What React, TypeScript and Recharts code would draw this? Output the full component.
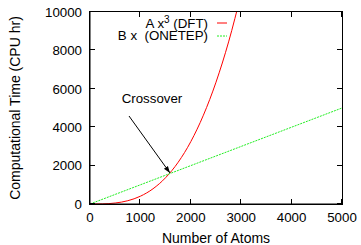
import React from "react";
import {
  LineChart,
  Line,
  XAxis,
  YAxis,
  Label,
  ReferenceLine,
  ReferenceDot,
} from "recharts";

// values
const DFT_ATOMS = [0, 250, 500, 750, 1000, 1250, 1500, 1750, 2000, 2250, 2500, 2750, 3000];
const DFT_CPU = [0, 6, 51, 171, 406, 793, 1370, 2176, 3248, 4625, 6344, 8443, 10962];
const ONETEP_ATOMS = [0, 5000];
const ONETEP_CPU = [0, 5000];
const X_TICKS = [0, 1000, 2000, 3000, 4000, 5000];
const Y_TICKS = [0, 2000, 4000, 6000, 8000, 10000];

const X_MAX = 5000;
const Y_MAX = 10000;

const dftData = DFT_ATOMS.map((x, i) => ({ x, y: DFT_CPU[i] }));
const onetepData = ONETEP_ATOMS.map((x, i) => ({ x, y: ONETEP_CPU[i] }));

const W = 361;
const H = 245;
const MARGIN = { top: 12, right: 19, bottom: 11, left: 30 };
const Y_AXIS_W = 60;
const X_AXIS_H = 30;
// plot box, follows from the margins and axis sizes above
const PLOT = {
  left: MARGIN.left + Y_AXIS_W,
  top: MARGIN.top,
  right: W - MARGIN.right,
  bottom: H - MARGIN.bottom - X_AXIS_H,
};
const TICK_LEN = 5;

const FONT = "'Liberation Sans', Arial, Helvetica, sans-serif";
const tickStyle = { fill: "#000", fontSize: 13.3, fontFamily: FONT };

// gnuplot-style key, top right inside the plot
const GnuLegend = () => (
  <div
    style={{
      position: "absolute",
      left: 90,
      top: 16,
      width: 146,
      fontFamily: FONT,
      fontSize: 13.3,
      color: "#000",
      lineHeight: "12px",
    }}
  >
    <div style={{ display: "flex", justifyContent: "flex-end", alignItems: "center" }}>
      <span>
        A x<sup style={{ fontSize: 10, verticalAlign: "5px", lineHeight: "8px" }}>3</sup> (DFT)
      </span>
      <svg width={20} height={12} style={{ marginLeft: 8 }}>
        <line x1={1} y1={6} x2={11} y2={6} stroke="#ff0000" strokeWidth={1} />
      </svg>
    </div>
    <div style={{ display: "flex", justifyContent: "flex-end", alignItems: "center" }}>
      <span style={{ whiteSpace: "pre" }}>B x  (ONETEP)</span>
      <svg width={20} height={12} style={{ marginLeft: 8 }}>
        <line x1={1} y1={6} x2={11} y2={6} stroke="#22ee22" strokeWidth={1} strokeDasharray="2 1" />
      </svg>
    </div>
  </div>
);

// gnuplot border with inward ticks on all four sides, as plain html boxes
const Frame = () => {
  const px = (t: number) => Math.round(PLOT.left + (t / X_MAX) * (PLOT.right - PLOT.left));
  const py = (t: number) => Math.round(PLOT.bottom - (t / Y_MAX) * (PLOT.bottom - PLOT.top));
  const tick = (left: number, top: number, w: number, h: number, key: string) => (
    <div key={key} style={{ position: "absolute", left, top, width: w, height: h, background: "#000" }} />
  );
  return (
    <div style={{ position: "absolute", left: 0, top: 0, width: W, height: H, pointerEvents: "none" }}>
      <div
        style={{
          position: "absolute",
          left: PLOT.left - 1,
          top: PLOT.top - 1,
          width: PLOT.right - PLOT.left + 2,
          height: PLOT.bottom - PLOT.top + 2,
          boxSizing: "border-box",
          border: "1.5px solid #000",
        }}
      />
      {X_TICKS.map((t) => tick(px(t) - 1, PLOT.bottom - TICK_LEN, 1, TICK_LEN, "xb" + t))}
      {X_TICKS.map((t) => tick(px(t) - 1, PLOT.top, 1, TICK_LEN, "xt" + t))}
      {Y_TICKS.map((t) => tick(PLOT.left, py(t) - 1, TICK_LEN, 1, "yl" + t))}
      {Y_TICKS.map((t) => tick(PLOT.right - TICK_LEN, py(t) - 1, TICK_LEN, 1, "yr" + t))}
    </div>
  );
};

const arrowLine = (p: any) => (
  <line x1={p.x1} y1={p.y1} x2={p.x2} y2={p.y2} stroke="#000" strokeWidth={1} markerEnd="url(#arrowHead)" />
);

export default function App() {
  return (
    <div style={{ position: "absolute", left: 0, top: 0, width: W, height: H, background: "#fff" }}>
      <LineChart width={W} height={H} margin={MARGIN}>
        <defs>
          <marker id="arrowHead" viewBox="0 0 10 10" refX="10" refY="5" markerWidth="7" markerHeight="7" orient="auto">
            <path d="M0,1.5 L10,5 L0,8.5 z" fill="#000" />
          </marker>
        </defs>
        <XAxis
          type="number"
          dataKey="x"
          domain={[0, X_MAX]}
          ticks={X_TICKS}
          allowDataOverflow
          height={X_AXIS_H}
          stroke="#000"
          tickLine={false}
          tickSize={0}
          tickMargin={9}
          tick={tickStyle}
        >
          <Label value="Number of Atoms" position="bottom" offset={-1} style={{ fill: "#000", fontSize: 14, fontFamily: FONT }} />
        </XAxis>
        <YAxis
          type="number"
          domain={[0, Y_MAX]}
          ticks={Y_TICKS}
          allowDataOverflow
          width={Y_AXIS_W}
          stroke="#000"
          tickLine={false}
          tickSize={0}
          tickMargin={8}
          tick={tickStyle}
        >
          <Label
            value="Computational Time (CPU hr)"
            angle={-90}
            position="left"
            offset={15}
            style={{ fill: "#000", fontSize: 14, fontFamily: FONT, textAnchor: "middle" }}
          />
        </YAxis>
        <Line
          data={dftData}
          dataKey="y"
          type="monotone"
          stroke="#ff0000"
          strokeWidth={1}
          dot={false}
          isAnimationActive={false}
        />
        <Line
          data={onetepData}
          dataKey="y"
          type="linear"
          stroke="#22ee22"
          strokeWidth={1}
          strokeDasharray="2 1"
          dot={false}
          isAnimationActive={false}
        />
        <ReferenceLine
          segment={[
            { x: 774, y: 4583 },
            { x: 1587, y: 1615 },
          ]}
          shape={arrowLine}
        />
        <ReferenceDot
          x={1230}
          y={5520}
          r={0}
          stroke="none"
          label={{ value: "Crossover", position: "center", fill: "#000", fontSize: 13.3, fontFamily: FONT }}
        />
      </LineChart>
      <Frame />
      <GnuLegend />
    </div>
  );
}
